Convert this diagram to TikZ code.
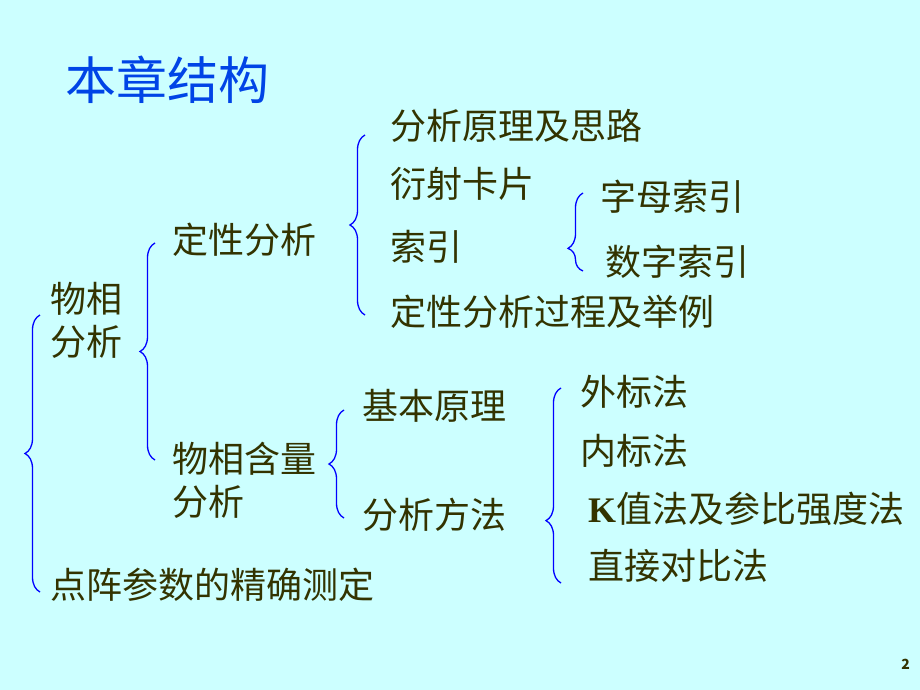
\documentclass[tikz,border=0pt]{standalone}
\usepackage{fontspec}
\usetikzlibrary{decorations.pathreplacing}
\setmainfont{Noto Sans CJK SC}
\newfontfamily\latinserif{Liberation Serif}
\definecolor{slideback}{RGB}{204,255,255}
\definecolor{titleblue}{RGB}{0,68,230}
\definecolor{itemtext}{RGB}{51,51,0}
\tikzset{
  item/.style={anchor=west,inner sep=0pt,text=itemtext,align=left,
    font=\fontsize{36}{43}\selectfont},
  slidetitle/.style={anchor=west,inner sep=0pt,text=titleblue,
    font=\fontsize{51}{60}\selectfont},
  pagenum/.style={anchor=east,inner sep=0pt,text=itemtext,
    font=\fontsize{14}{16}\selectfont\bfseries},
  bracket/.style={draw=blue,line width=1.3pt,decorate,
    decoration={brace,amplitude=15pt,#1}},
  bracket/.default={aspect=0.5}
}

\begin{document}
\begin{tikzpicture}[x=1pt,y=-1pt]
\fill[slideback] (0,0) rectangle (920,690);
\useasboundingbox (0,0) rectangle (920,690);

\node[slidetitle] (title) at (65,80) {本章结构};

% first level
\node[item] (wxfx) at (50,320) {物相\\分析};
\node[item] (dzcs) at (50,585) {点阵参数的精确测定};

% second level
\node[item] (dxfx) at (172,240) {定性分析};
\node[item] (wxhl) at (172,480) {物相含量\\分析};

% qualitative analysis
\node[item] (yuanli) at (390,126) {分析原理及思路};
\node[item] (kapian) at (390,184) {衍射卡片};
\node[item] (suoyin) at (390,247) {索引};
\node[item] (guocheng) at (390,312) {定性分析过程及举例};
\node[item] (zimu) at (600,197) {字母索引};
\node[item] (shuzi) at (605,262) {数字索引};

% quantitative analysis
\node[item] (jiben) at (362,406) {基本原理};
\node[item] (fangfa) at (362,515) {分析方法};
\node[item] (waibiao) at (580,392) {外标法};
\node[item] (neibiao) at (580,451) {内标法};
\node[item] (kzhi) at (588,509) {{\latinserif\bfseries K}值法及参比强度法};
\node[item] (zhijie) at (588,566) {直接对比法};

\node[pagenum] (page) at (910,664) {2};

% braces
\coordinate (allbot) at (40,592);
\coordinate (alltop) at (40,315);
\draw[bracket] (allbot) -- (alltop);
\coordinate (wxbot) at (155,460);
\coordinate (wxtop) at (155,243);
\draw[bracket] (wxbot) -- (wxtop);
\coordinate (dxbot) at (365,315);
\coordinate (dxtop) at (365,135);
\draw[bracket] (dxbot) -- (dxtop);
\coordinate (sybot) at (583,271);
\coordinate (sytop) at (583,193);
\draw[bracket={aspect=0.29}] (sybot) -- (sytop);
\coordinate (hlbot) at (344,518);
\coordinate (hltop) at (344,410);
\draw[bracket] (hlbot) -- (hltop);
\coordinate (ffbot) at (561,583);
\coordinate (fftop) at (561,388);
\draw[bracket={aspect=0.32}] (ffbot) -- (fftop);
\end{tikzpicture}
\end{document}
